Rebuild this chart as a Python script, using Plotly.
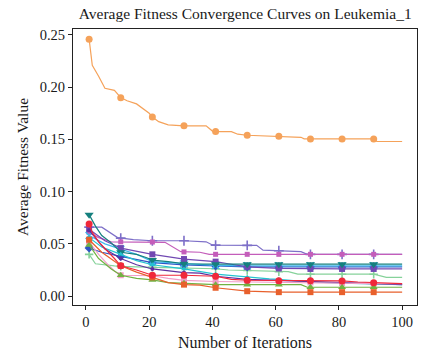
import plotly.graph_objects as go

# Convergence curves: (iteration, average fitness) points where each curve changes
ORANGE_CURVE = [(1, 0.246), (2, 0.221), (4, 0.2105), (6, 0.199), (9, 0.197), (11, 0.190),
                (13, 0.187), (16, 0.184), (20, 0.175), (21, 0.1715), (23, 0.167), (26, 0.164),
                (31, 0.163), (38, 0.163), (40, 0.158), (41, 0.1575), (46, 0.1575), (48, 0.155),
                (51, 0.154), (61, 0.153), (68, 0.152), (69, 0.1505), (71, 0.1505), (81, 0.1505),
                (91, 0.1505), (92, 0.148), (100, 0.148)]
SLATE_CURVE = [(1, 0.066), (5, 0.066), (10, 0.056), (11, 0.0555), (15, 0.054), (21, 0.053),
               (31, 0.053), (38, 0.052), (40, 0.049), (41, 0.0488), (51, 0.0486), (54, 0.0486),
               (56, 0.044), (61, 0.0435), (68, 0.0425), (70, 0.040), (71, 0.040), (81, 0.040),
               (91, 0.040), (100, 0.040)]
ORCHID_CURVE = [(1, 0.061), (4, 0.056), (8, 0.052), (11, 0.052), (21, 0.0518), (25, 0.0515),
                (30, 0.0425), (31, 0.0423), (36, 0.042), (39, 0.040), (41, 0.040), (51, 0.040),
                (61, 0.040), (71, 0.040), (81, 0.040), (91, 0.040), (100, 0.040)]
TEAL_CURVE = [(1, 0.078), (3, 0.067), (5, 0.058), (8, 0.051), (11, 0.042), (16, 0.040),
              (19, 0.037), (21, 0.0345), (26, 0.033), (31, 0.031), (41, 0.0306), (51, 0.0306),
              (61, 0.0306), (71, 0.0306), (81, 0.0306), (91, 0.0306), (100, 0.0306)]
SKY_CURVE = [(1, 0.058), (6, 0.050), (11, 0.045), (16, 0.040), (21, 0.033), (31, 0.031),
             (41, 0.0295), (51, 0.029), (61, 0.029), (71, 0.029), (81, 0.029), (91, 0.029),
             (100, 0.029)]
BLUE_CURVE = [(1, 0.046), (5, 0.042), (11, 0.038), (16, 0.035), (21, 0.032), (31, 0.030),
              (41, 0.029), (51, 0.028), (61, 0.028), (71, 0.028), (81, 0.028), (91, 0.028),
              (100, 0.028)]
PURPLE_CURVE = [(1, 0.064), (6, 0.053), (11, 0.046), (16, 0.043), (21, 0.040), (31, 0.0355),
                (41, 0.033), (45, 0.031), (51, 0.028), (61, 0.0265), (71, 0.026), (81, 0.026),
                (91, 0.026), (100, 0.026)]
MINT_CURVE = [(1, 0.040), (3, 0.031), (9, 0.029), (11, 0.0285), (21, 0.0275), (31, 0.0268),
              (41, 0.0262), (45, 0.025), (51, 0.0245), (55, 0.0235), (61, 0.0234), (64, 0.0234),
              (67, 0.021), (71, 0.021), (81, 0.021), (91, 0.021), (95, 0.018), (100, 0.018)]
CYAN_CURVE = [(1, 0.056), (5, 0.047), (11, 0.040), (16, 0.034), (21, 0.030), (31, 0.026),
              (41, 0.021), (51, 0.018), (58, 0.0165), (61, 0.016), (71, 0.0135), (81, 0.0125),
              (91, 0.0118), (100, 0.011)]
VIOLET_CURVE = [(1, 0.063), (6, 0.045), (11, 0.036), (16, 0.030), (21, 0.026), (31, 0.0225),
                (36, 0.022), (41, 0.019), (51, 0.016), (61, 0.015), (71, 0.014), (81, 0.0125),
                (91, 0.0115), (100, 0.011)]
PINK_CURVE = [(1, 0.052), (4, 0.040), (7, 0.030), (9, 0.024), (11, 0.020), (21, 0.0195),
              (26, 0.017), (31, 0.015), (41, 0.014), (51, 0.0135), (61, 0.013), (71, 0.013),
              (81, 0.0125), (91, 0.012), (100, 0.012)]
GREEN_CURVE = [(1, 0.049), (4, 0.036), (8, 0.026), (11, 0.020), (16, 0.017), (21, 0.0155),
               (26, 0.013), (31, 0.0123), (41, 0.011), (51, 0.011), (61, 0.011), (68, 0.011),
               (70, 0.0085), (71, 0.0085), (81, 0.0085), (91, 0.0085), (100, 0.0085)]
VERMILION_CURVE = [(1, 0.054), (5, 0.042), (11, 0.029), (16, 0.023), (21, 0.018), (26, 0.013),
                   (31, 0.011), (36, 0.0105), (41, 0.008), (46, 0.0065), (51, 0.0047),
                   (61, 0.0038), (71, 0.0038), (81, 0.0038), (91, 0.0038), (100, 0.0038)]
RED_CURVE = [(1, 0.069), (2, 0.061), (4, 0.052), (6, 0.046), (9, 0.036), (11, 0.029),
             (16, 0.025), (21, 0.020), (31, 0.020), (41, 0.019), (46, 0.016), (51, 0.0152),
             (61, 0.0148), (71, 0.0146), (81, 0.0145), (86, 0.0135), (91, 0.0128), (100, 0.012)]

# Iterations that carry a marker
MARK_ITERS = [1, 11, 21, 31, 41, 51, 61, 71, 81, 91]

X_TICKS = [0, 20, 40, 60, 80, 100]
Y_TICKS = [0.00, 0.05, 0.10, 0.15, 0.20, 0.25]

# (curve, colour, marker symbol, marker size), in drawing order
SERIES = [
    (MINT_CURVE, "#86D29A", "cross-thin", 6),
    (SLATE_CURVE, "#7D6FC8", "cross-thin", 7),
    (ORCHID_CURVE, "#C45DBA", "square", 5),
    (BLUE_CURVE, "#2F55C4", "diamond", 7),
    (SKY_CURVE, "#3FB8EC", "x-thin", 7),
    (PURPLE_CURVE, "#7148B2", "square", 6),
    (TEAL_CURVE, "#15807E", "triangle-down", 8),
    (CYAN_CURVE, "#23C3D0", "triangle-up", 5),
    (VIOLET_CURVE, "#5E2F9E", "circle", 4),
    (PINK_CURVE, "#F29DC8", "square", 6),
    (GREEN_CURVE, "#72B243", "triangle-up", 7),
    (VERMILION_CURVE, "#E8602C", "square", 6),
    (RED_CURVE, "#F0283A", "circle", 7),
    (ORANGE_CURVE, "#F5A25A", "circle", 7),
]

fig = go.Figure()
for curve, color, symbol, size in SERIES:
    xs = [p[0] for p in curve]
    ys = [p[1] for p in curve]
    fig.add_trace(go.Scatter(x=xs, y=ys, mode="lines",
                             line=dict(color=color, width=1.2),
                             showlegend=False, hoverinfo="skip"))
    mx = [p[0] for p in curve if p[0] in MARK_ITERS]
    my = [p[1] for p in curve if p[0] in MARK_ITERS]
    marker = dict(color=color, symbol=symbol, size=size)
    if symbol.endswith("-thin"):
        marker["line"] = dict(color=color, width=1.6)
    fig.add_trace(go.Scatter(x=mx, y=my, mode="markers", marker=marker,
                             showlegend=False, hoverinfo="skip"))

serif = "Liberation Serif, DejaVu Serif, serif"
fig.update_layout(
    width=425, height=356,
    margin=dict(l=73, r=7, t=29, b=48),
    paper_bgcolor="white", plot_bgcolor="white",
    font=dict(family=serif, size=14, color="#1a1a1a"),
    title=dict(text="Average Fitness Convergence Curves on Leukemia_1",
               x=0.577, xanchor="center", y=0.963, yanchor="middle",
               font=dict(family=serif, size=15.5, color="#1a1a1a")),
)
fig.update_xaxes(range=[-4.1, 104.7], tickvals=X_TICKS, ticktext=[str(v) for v in X_TICKS],
                 showgrid=False, zeroline=False, showline=True, mirror=True,
                 linecolor="#222222", linewidth=1, ticks="outside", ticklen=4,
                 tickcolor="#222222", tickfont=dict(family=serif, size=14.5),
                 title=dict(text="Number of Iterations", standoff=7,
                            font=dict(family=serif, size=16)))
fig.update_yaxes(range=[-0.0085, 0.2557], tickvals=Y_TICKS,
                 ticktext=[f"{v:.2f}" for v in Y_TICKS],
                 showgrid=False, zeroline=False, showline=True, mirror=True,
                 linecolor="#222222", linewidth=1, ticks="outside", ticklen=4,
                 tickcolor="#222222", tickfont=dict(family=serif, size=14.5),
                 title=dict(text="Average Fitness Value", standoff=7,
                            font=dict(family=serif, size=15.5)))

fig.write_html("out.html")
